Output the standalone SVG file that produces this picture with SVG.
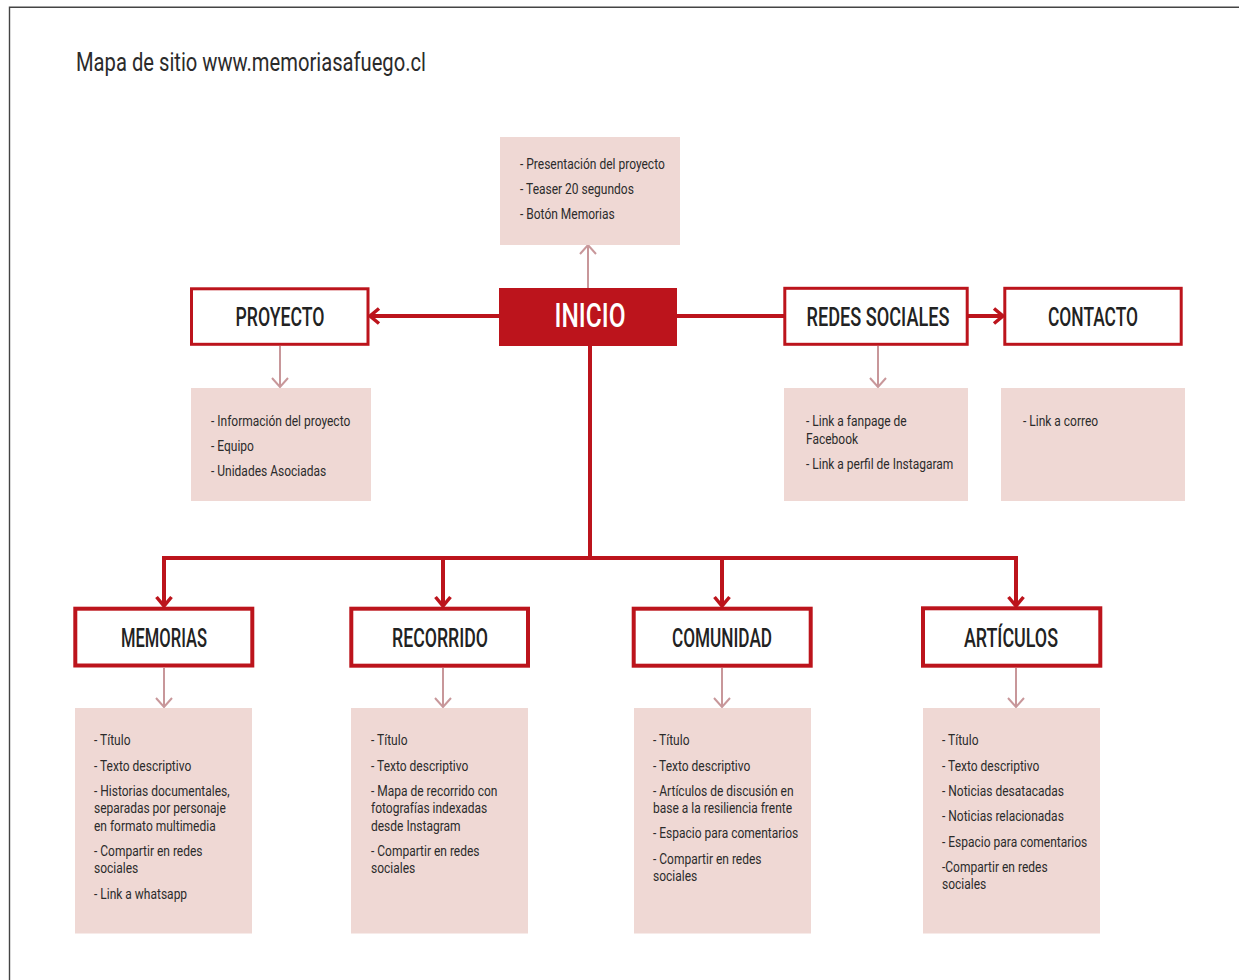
<svg xmlns="http://www.w3.org/2000/svg" width="1239" height="980" viewBox="0 0 1239 980">
<defs>
<style>
.frame{stroke:#444;stroke-width:1.4;fill:none}
.info{fill:#efd8d4}
.node{fill:#fff;stroke:#bc141c;stroke-width:3}
.nodeb{fill:#fff;stroke:#bc141c;stroke-width:4}
.main{fill:#bc141c}
.red{stroke:#bc141c;stroke-width:4;fill:none}
.light{stroke:#c8979a;stroke-width:2;fill:none}
.h{font-family:Roboto,"Liberation Sans",sans-serif;font-size:25px;font-weight:500;fill:#222;text-anchor:middle}
.t{font-family:Roboto,"Liberation Sans",sans-serif;font-size:15px;fill:#2b2b2b}
.title{font-family:Roboto,"Liberation Sans",sans-serif;font-size:25px;fill:#2b2b2b}
</style>
<marker id="ar" markerUnits="userSpaceOnUse" viewBox="-14 -10 16 20" refX="-2" refY="0" markerWidth="16" markerHeight="20" orient="auto">
<path d="M-11,-7.5 L-2,0 L-11,7.5" fill="none" stroke="#bc141c" stroke-width="3.5"/>
</marker>
<marker id="al" markerUnits="userSpaceOnUse" viewBox="-12 -10 14 20" refX="-1" refY="0" markerWidth="14" markerHeight="20" orient="auto">
<path d="M-10,-8 L-1,0 L-10,8" fill="none" stroke="#c8979a" stroke-width="2"/>
</marker>
</defs>
<rect width="1239" height="980" fill="#fff"/>
<path class="frame" d="M9.5,980 V7.2 H1239"/>
<text class="title" x="76" y="70.5" textLength="350" lengthAdjust="spacingAndGlyphs">Mapa de sitio www.memoriasafuego.cl</text>

<g id="connectors">
<line class="light" x1="588" y1="288" x2="588" y2="245" marker-end="url(#al)"/>
<line class="red" x1="499" y1="316" x2="370" y2="316" marker-end="url(#ar)"/>
<line class="red" x1="677" y1="316" x2="785" y2="316"/>
<line class="red" x1="968" y1="316" x2="1003" y2="316" marker-end="url(#ar)"/>
<line class="light" x1="280" y1="346" x2="280" y2="387" marker-end="url(#al)"/>
<line class="light" x1="878" y1="346" x2="878" y2="387" marker-end="url(#al)"/>
<path class="red" d="M590,346 V558"/>
<path class="red" d="M164,606 V558 H1016 V606"/>
<line class="red" x1="164" y1="560" x2="164" y2="606" marker-end="url(#ar)"/>
<line class="red" x1="443" y1="558" x2="443" y2="606" marker-end="url(#ar)"/>
<line class="red" x1="722" y1="558" x2="722" y2="606" marker-end="url(#ar)"/>
<line class="red" x1="1016" y1="560" x2="1016" y2="606" marker-end="url(#ar)"/>
<line class="light" x1="164" y1="668" x2="164" y2="707" marker-end="url(#al)"/>
<line class="light" x1="443" y1="668" x2="443" y2="707" marker-end="url(#al)"/>
<line class="light" x1="722" y1="668" x2="722" y2="707" marker-end="url(#al)"/>
<line class="light" x1="1016" y1="668" x2="1016" y2="707" marker-end="url(#al)"/>
</g>

<g id="inicio-info">
<rect class="info" x="500" y="137" width="180" height="108"/>
<g transform="matrix(0.8 0 0 1 104 0)">
<text class="t" x="520" y="169">- Presentación del proyecto</text>
<text class="t" x="520" y="194">- Teaser 20 segundos</text>
<text class="t" x="520" y="219.5">- Botón Memorias</text>
</g>
</g>

<g id="inicio">
<rect class="main" x="499" y="288" width="178" height="58"/>
<text x="590" y="327" textLength="71" lengthAdjust="spacingAndGlyphs" style="font-family:Roboto,'Liberation Sans',sans-serif;font-size:34px;font-weight:500;fill:#fff;text-anchor:middle">INICIO</text>
</g>

<g id="proyecto">
<rect class="node" x="191.5" y="288.8" width="176.5" height="55.5"/>
<text class="h" x="280" y="325.5" textLength="89" lengthAdjust="spacingAndGlyphs">PROYECTO</text>
</g>
<g id="proyecto-info">
<rect class="info" x="191" y="388" width="180" height="113"/>
<g transform="matrix(0.8 0 0 1 42.2 0)">
<text class="t" x="211" y="426.5">- Información del proyecto</text>
<text class="t" x="211" y="451">- Equipo</text>
<text class="t" x="211" y="476.5">- Unidades Asociadas</text>
</g>
</g>

<g id="redes">
<rect class="node" x="784.8" y="288.3" width="182.4" height="56"/>
<text class="h" x="878" y="325.5" textLength="143" lengthAdjust="spacingAndGlyphs">REDES SOCIALES</text>
</g>
<g id="redes-info">
<rect class="info" x="784" y="388" width="184" height="113"/>
<g transform="matrix(0.8 0 0 1 161.2 0)">
<text class="t" x="806" y="426.5">- Link a fanpage de</text>
<text class="t" x="806" y="444">Facebook</text>
<text class="t" x="806" y="469.5">- Link a perfil de Instagaram</text>
</g>
</g>

<g id="contacto">
<rect class="node" x="1004.8" y="288.3" width="176.4" height="56"/>
<text class="h" x="1093" y="326" textLength="90" lengthAdjust="spacingAndGlyphs">CONTACTO</text>
</g>
<g id="contacto-info">
<rect class="info" x="1001" y="388" width="184" height="113"/>
<g transform="matrix(0.8 0 0 1 204.6 0)">
<text class="t" x="1023" y="426.5">- Link a correo</text>
</g>
</g>

<g id="memorias">
<rect class="nodeb" x="75.3" y="608.7" width="177" height="56.8"/>
<text class="h" x="164" y="646.5" textLength="86" lengthAdjust="spacingAndGlyphs">MEMORIAS</text>
</g>
<g id="memorias-info">
<rect class="info" x="75" y="708" width="177" height="225.5"/>
<g transform="matrix(0.8 0 0 1 18.8 0)">
<text class="t" x="94" y="745.5">- Título</text>
<text class="t" x="94" y="771">- Texto descriptivo</text>
<text class="t" x="94" y="796">- Historias documentales,</text>
<text class="t" x="94" y="813.5">separadas por personaje</text>
<text class="t" x="94" y="831">en formato multimedia</text>
<text class="t" x="94" y="856">- Compartir en redes</text>
<text class="t" x="94" y="873.5">sociales</text>
<text class="t" x="94" y="899.5">- Link a whatsapp</text>
</g>
</g>

<g id="recorrido">
<rect class="nodeb" x="351.3" y="608.7" width="176.7" height="57"/>
<text class="h" x="440" y="646.5" textLength="96" lengthAdjust="spacingAndGlyphs">RECORRIDO</text>
</g>
<g id="recorrido-info">
<rect class="info" x="351" y="708" width="177" height="225.5"/>
<g transform="matrix(0.8 0 0 1 74.2 0)">
<text class="t" x="371" y="745.5">- Título</text>
<text class="t" x="371" y="771">- Texto descriptivo</text>
<text class="t" x="371" y="796">- Mapa de recorrido con</text>
<text class="t" x="371" y="813.5">fotografías indexadas</text>
<text class="t" x="371" y="831">desde Instagram</text>
<text class="t" x="371" y="856">- Compartir en redes</text>
<text class="t" x="371" y="873.5">sociales</text>
</g>
</g>

<g id="comunidad">
<rect class="nodeb" x="633.7" y="608.7" width="177" height="57"/>
<text class="h" x="722" y="646.5" textLength="100" lengthAdjust="spacingAndGlyphs">COMUNIDAD</text>
</g>
<g id="comunidad-info">
<rect class="info" x="634" y="708" width="177" height="225.5"/>
<g transform="matrix(0.8 0 0 1 130.6 0)">
<text class="t" x="653" y="745.5">- Título</text>
<text class="t" x="653" y="771">- Texto descriptivo</text>
<text class="t" x="653" y="796">- Artículos de discusión en</text>
<text class="t" x="653" y="813.5">base a la resiliencia frente</text>
<text class="t" x="653" y="838.5">- Espacio para comentarios</text>
<text class="t" x="653" y="864">- Compartir en redes</text>
<text class="t" x="653" y="881.5">sociales</text>
</g>
</g>

<g id="articulos">
<rect class="nodeb" x="923" y="608.3" width="177.3" height="57.4"/>
<text class="h" x="1011" y="646.5" textLength="94" lengthAdjust="spacingAndGlyphs">ARTÍCULOS</text>
</g>
<g id="articulos-info">
<rect class="info" x="923" y="708" width="177" height="225.5"/>
<g transform="matrix(0.8 0 0 1 188.4 0)">
<text class="t" x="942" y="745.5">- Título</text>
<text class="t" x="942" y="771">- Texto descriptivo</text>
<text class="t" x="942" y="796">- Noticias desatacadas</text>
<text class="t" x="942" y="821.5">- Noticias relacionadas</text>
<text class="t" x="942" y="847.5">- Espacio para comentarios</text>
<text class="t" x="942" y="872">-Compartir en redes</text>
<text class="t" x="942" y="889.5">sociales</text>
</g>
</g>
</svg>
